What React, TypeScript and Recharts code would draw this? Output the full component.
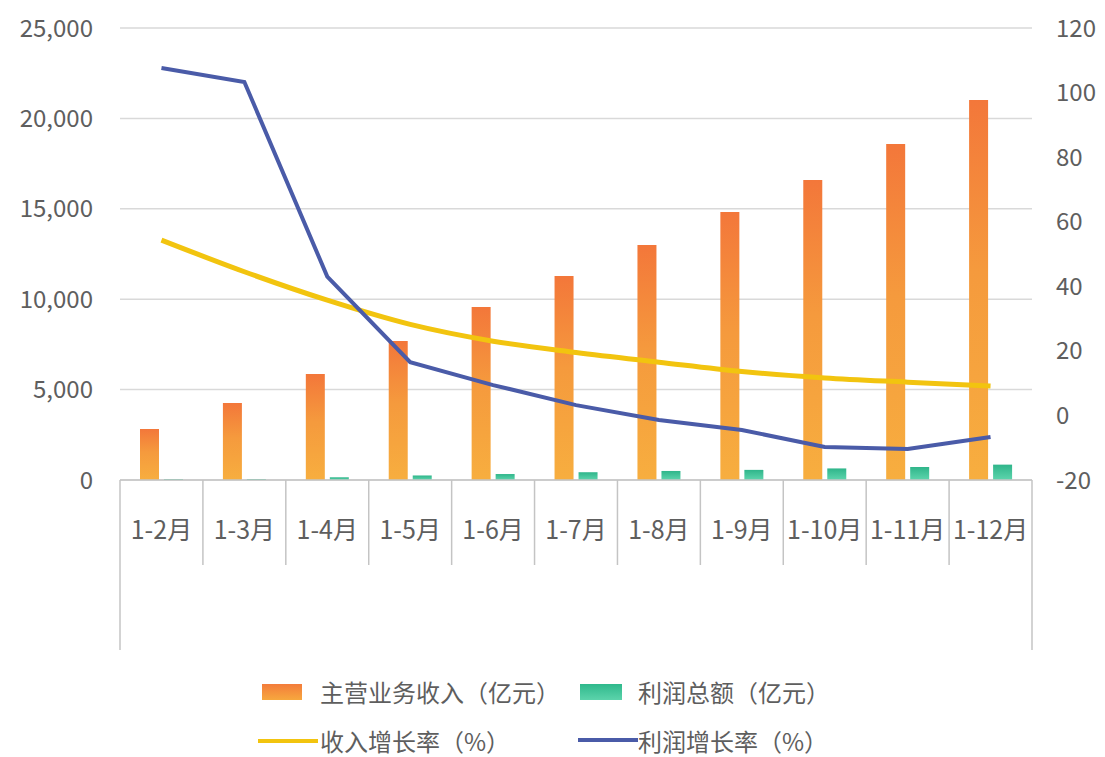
import { ComposedChart, Bar, Line, XAxis, YAxis, CartesianGrid, Legend } from 'recharts'

const months = ['1-2月', '1-3月', '1-4月', '1-5月', '1-6月', '1-7月', '1-8月', '1-9月', '1-10月', '1-11月', '1-12月']
const revenue = [2820, 4260, 5860, 7690, 9570, 11280, 13000, 14820, 16590, 18580, 21020]
const profit = [50, 60, 150, 250, 330, 430, 500, 560, 640, 720, 850]
const revenueGrowth = [54.3, 44.5, 35.7, 28.2, 23.0, 19.5, 16.5, 13.6, 11.6, 10.3, 9.1]
const profitGrowth = [107.6, 103.3, 43.0, 16.5, 9.4, 3.2, -1.4, -4.5, -9.8, -10.4, -6.7]
const leftTicks = [0, 5000, 10000, 15000, 20000, 25000]
const rightTicks = [-20, 0, 20, 40, 60, 80, 100, 120]

const data = months.map((m, i) => ({
  m, revenue: revenue[i], profit: profit[i], rg: revenueGrowth[i], pg: profitGrowth[i],
}))

const W = 1105
const H = 757
const LEFT = 120
const RIGHT = 73
const PLOT_W = W - LEFT - RIGHT
const BW = PLOT_W / months.length
const FONT = '"Noto Sans CJK SC", "Noto Sans", sans-serif'
const TEXT = '#5e5e5e'
const AXIS = '#c4c4c4'

function MonthTick({ x, y, payload }: any) {
  const i = payload.index
  const last = i === months.length - 1
  return (
    <g>
      <line x1={x - BW / 2} x2={x - BW / 2} y1={y} y2={y + (i === 0 ? 170 : 85)} stroke={AXIS} strokeWidth={1.5} />
      {last && <line x1={x + BW / 2} x2={x + BW / 2} y1={y} y2={y + 170} stroke={AXIS} strokeWidth={1.5} />}
      <text x={x} y={y + 48} textAnchor="middle" dominantBaseline="central" fill={TEXT} fontSize={25} fontFamily={FONT}>
        {payload.value}
      </text>
    </g>
  )
}

function LegendBox() {
  const txt = { fontSize: 24, color: TEXT, fontFamily: FONT, lineHeight: '28px', whiteSpace: 'nowrap' as const }
  return (
    <div style={{ position: 'relative', width: W, height: 107 }}>
      <div style={{ position: 'absolute', left: 262, top: 34, width: 40, height: 16, background: 'linear-gradient(#f37c3b, #f7a83e)' }} />
      <div style={{ ...txt, position: 'absolute', left: 320, top: 28 }}>主营业务收入（亿元）</div>
      <div style={{ position: 'absolute', left: 580, top: 34, width: 42, height: 16, background: 'linear-gradient(#2fb98c, #5cd3ab)' }} />
      <div style={{ ...txt, position: 'absolute', left: 638, top: 28 }}>利润总额（亿元）</div>
      <div style={{ position: 'absolute', left: 258, top: 89, width: 60, height: 4, background: '#f2c40f' }} />
      <div style={{ ...txt, position: 'absolute', left: 320, top: 77 }}>收入增长率（%）</div>
      <div style={{ position: 'absolute', left: 578, top: 88, width: 60, height: 4, background: '#4a5ba8' }} />
      <div style={{ ...txt, position: 'absolute', left: 638, top: 77 }}>利润增长率（%）</div>
    </div>
  )
}

export default function App() {
  const tick = { fill: TEXT, fontSize: 24, fontFamily: FONT }
  return (
    <div style={{ position: 'absolute', left: 0, top: 0, width: W, height: H, background: '#fff' }}>
      <ComposedChart width={W} height={H} data={data} margin={{ top: 28, right: 0, bottom: 0, left: 0 }}
        barSize={19} barGap={5}>
        <defs>
          <linearGradient id="gRev" x1="0" y1="0" x2="0" y2="1">
            <stop offset="0%" stopColor="#f3773a" />
            <stop offset="45%" stopColor="#f59a3d" />
            <stop offset="100%" stopColor="#f7ae3f" />
          </linearGradient>
          <linearGradient id="gPro" x1="0" y1="0" x2="0" y2="1">
            <stop offset="0%" stopColor="#2fb58a" />
            <stop offset="100%" stopColor="#5ed5ad" />
          </linearGradient>
        </defs>
        <CartesianGrid yAxisId="left" vertical={false} stroke="#d9d9d9" strokeWidth={1.5} />
        <XAxis dataKey="m" height={170} tick={<MonthTick />} tickLine={false} tickSize={0} tickMargin={0}
          interval={0} axisLine={{ stroke: AXIS, strokeWidth: 1.5 }} />
        <YAxis yAxisId="left" width={LEFT} domain={[0, 25000]} ticks={leftTicks} axisLine={false} tickLine={false}
          tickSize={0} tickMargin={27} tick={tick} tickFormatter={(v: number) => v.toLocaleString('en-US')} />
        <YAxis yAxisId="right" orientation="right" width={RIGHT} domain={[-20, 120]} ticks={rightTicks}
          axisLine={false} tickLine={false} tickSize={0} tickMargin={24} tick={{ ...tick, textAnchor: 'start' }} />
        <Legend verticalAlign="bottom" content={<LegendBox />} wrapperStyle={{ left: 0, width: W, height: 107 }} />
        <Bar yAxisId="left" dataKey="revenue" name="主营业务收入（亿元）" fill="url(#gRev)" isAnimationActive={false} />
        <Bar yAxisId="left" dataKey="profit" name="利润总额（亿元）" fill="url(#gPro)" isAnimationActive={false} />
        <Line yAxisId="right" type="monotone" dataKey="rg" name="收入增长率（%）" stroke="#f2c40f" strokeWidth={5}
          dot={false} activeDot={false} isAnimationActive={false} />
        <Line yAxisId="right" type="linear" dataKey="pg" name="利润增长率（%）" stroke="#4a5ba8" strokeWidth={4}
          dot={false} activeDot={false} isAnimationActive={false} />
      </ComposedChart>
    </div>
  )
}
